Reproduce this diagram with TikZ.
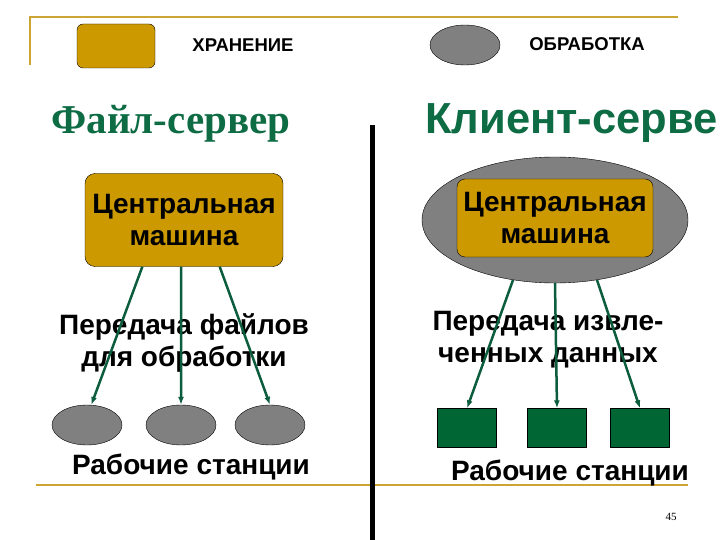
\documentclass[tikz,border=0pt]{standalone}
\usepackage{fontspec}
\setmainfont{Liberation Sans}
\newfontfamily\titleserif{Liberation Serif}
\usepackage{tikz}
\usetikzlibrary{positioning, calc, shapes.geometric, arrows.meta}
\usepackage{xcolor}
\definecolor{gold}{RGB}{204,153,0}
\definecolor{rulegold}{RGB}{205,165,50}
\definecolor{ovalgray}{RGB}{128,128,128}
\definecolor{boxgreen}{RGB}{0,102,51}
\definecolor{titlegreen}{RGB}{14,108,68}
\definecolor{linegreen}{RGB}{12,92,62}
\tikzstyle{Store} = [draw=black, fill=gold, rounded corners=10bp, inner sep=0pt]
\tikzstyle{Proc} = [draw=black, fill=ovalgray, ellipse, inner sep=0pt,
minimum width=70bp, minimum height=40bp]
\tikzstyle{Screen} = [draw=black, fill=boxgreen, inner sep=0pt,
minimum width=59bp, minimum height=39bp]
\tikzstyle{Big} = [font=\bfseries\fontsize{28bp}{32bp}\selectfont, align=center, inner sep=0pt]
\tikzstyle{Key} = [font=\bfseries\fontsize{18.5bp}{21bp}\selectfont]
\tikzstyle{Arrow} = [line width=2.5bp, linegreen, -{Latex[length=8bp, width=6bp]}]

\begin{document}
\begin{tikzpicture}[x=1bp, y=-1bp]
    \useasboundingbox (0,0) rectangle (720,540);
    % frame lines
    \draw[rulegold, line width=2bp] (30,65) -- (30,17) -- (678,17);
    \draw[rulegold, line width=2.5bp] (36,485) -- (688,485);
    \draw[black, line width=5bp] (372,125) -- (372,540);

    % legend
    \node [Store, minimum width=78bp, minimum height=44bp, rounded corners=6bp] (key1) at (116,46) {};
    \node [Key] (keytext1) at (243,45) {ХРАНЕНИЕ};
    \node [Proc] (key2) at (465,45) {};
    \node [Key] (keytext2) at (587,44) {ОБРАБОТКА};

    % titles
    \node [titlegreen, font=\titleserif\bfseries\fontsize{41bp}{44bp}\selectfont] (ftitle) at (171,124) {Файл-сервер};
    \node [titlegreen, anchor=base west, inner sep=0pt, font=\bfseries\fontsize{43.5bp}{46bp}\selectfont] (ctitle) at (425,134) {Клиент-серве};

    % file server
    \node [Store, minimum width=198bp, minimum height=93bp, Big] (fhost) at (184,220) {Центральная\\машина};
    \node [Big] (ftext) at (184,343) {Передача файлов\\для обработки};
    \node [Proc] (ws1) at (87,425) {};
    \node [Proc] (ws2) at (181,425) {};
    \node [Proc] (ws3) at (270,425) {};
    \node [Big] (flabel) at (191,467) {Рабочие станции};

    \draw[Arrow] ($(fhost.south west)!0.29!(fhost.south east)$) -- (ws1.78);
    \draw[Arrow] ($(fhost.south west)!0.485!(fhost.south east)$) -- (ws2.north);
    \draw[Arrow] ($(fhost.south west)!0.68!(fhost.south east)$) -- (ws3.north);

    % client server
    \node [Proc, minimum width=266bp, minimum height=126bp] (cproc) at (555,220) {};
    \node [Store, minimum width=196bp, minimum height=78bp, rounded corners=8bp, Big] (chost) at (555,218) {Центральная\\машина};
    \node [Big] (ctext) at (548,340) {Передача извле-\\ченных данных};
    \node [Screen] (pc1) at (467,428) {};
    \node [Screen] (pc2) at (557,428) {};
    \node [Screen] (pc3) at (640,428) {};
    \node [Big] (clabel) at (570,473) {Рабочие станции};

    \draw[Arrow] (cproc.235) -- (pc1.north);
    \draw[Arrow] (cproc.270) -- (pc2.north);
    \draw[Arrow] (cproc.305) -- (pc3.north);

    \node [font=\titleserif\fontsize{11bp}{13bp}\selectfont] (page) at (671,517) {45};
\end{tikzpicture}
\end{document}
